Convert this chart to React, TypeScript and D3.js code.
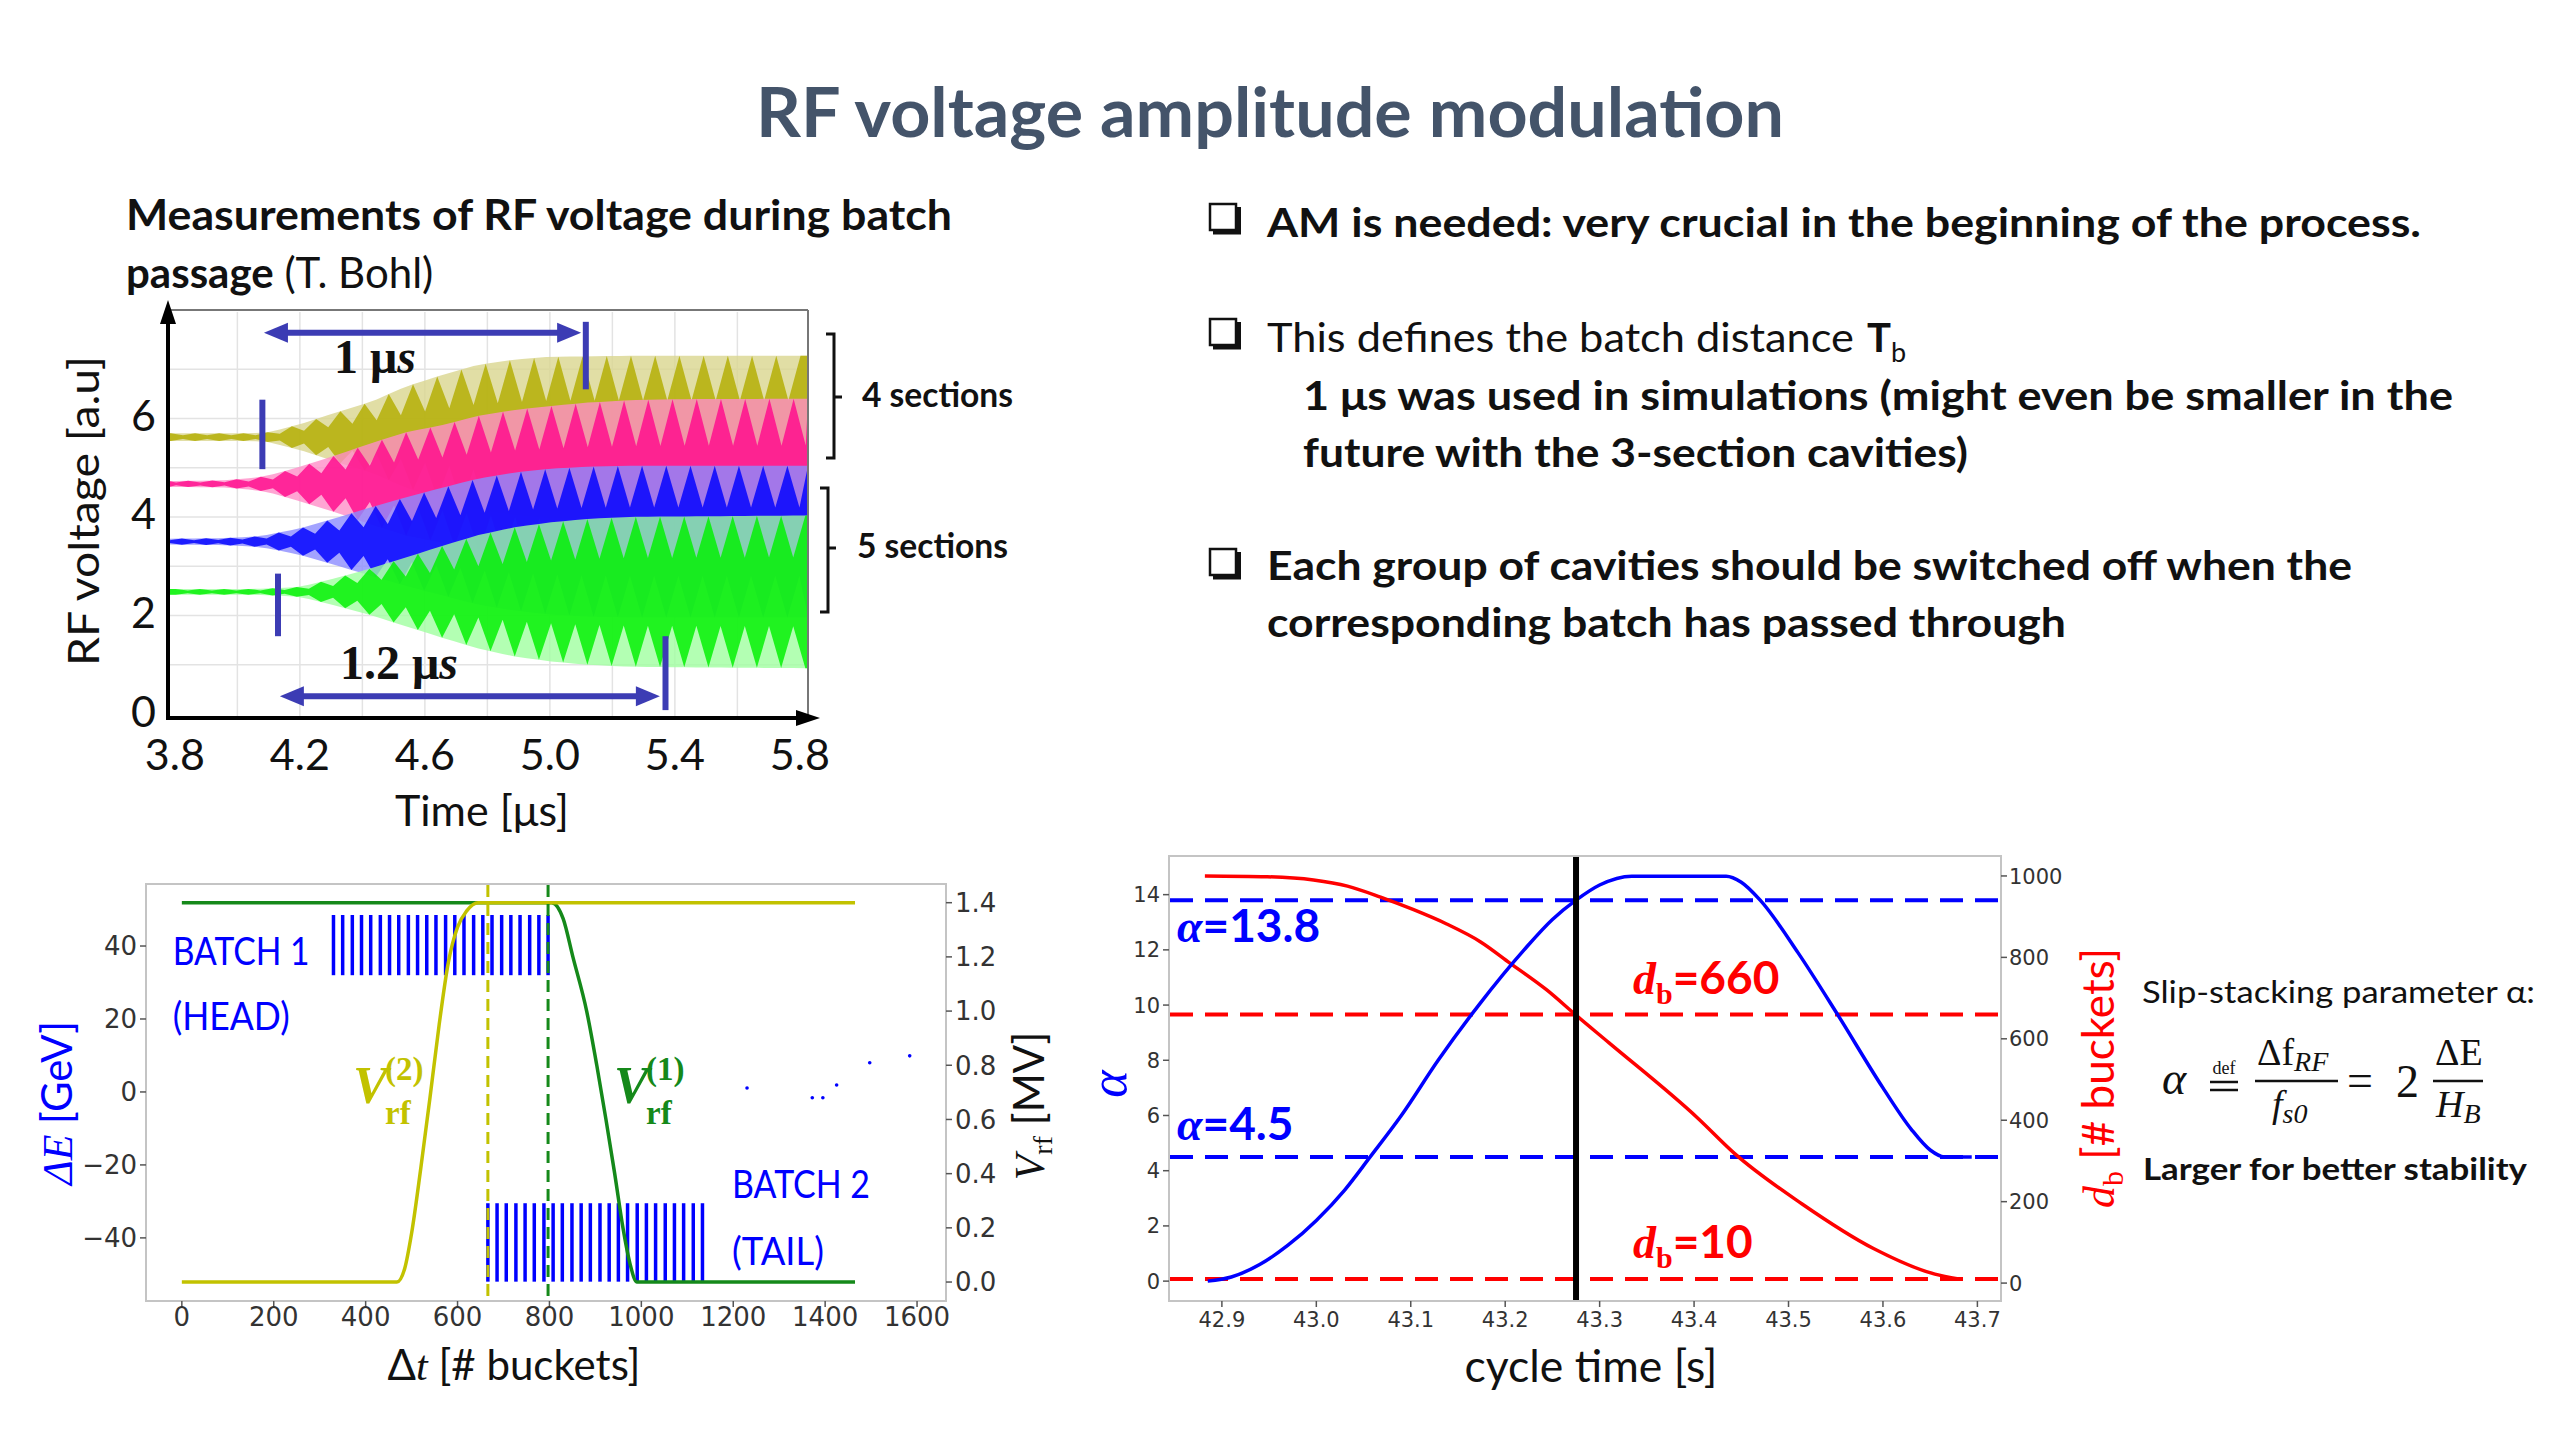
import React from "react";
import * as d3 from "d3";

const SANS = "Lato, 'Open Sans', 'DejaVu Sans', sans-serif";
const SERIF = "'Liberation Serif', 'DejaVu Serif', serif";
const MPL = "'DejaVu Sans', sans-serif";
const ANN = "#3c3cb4";

// ---------- Top-left: measured RF voltage envelopes ----------
const rfTimeTicks = [3.8, 4.2, 4.6, 5.0, 5.4, 5.8];
const rfVoltTicks = [0, 2, 4, 6];
const rfGridTimes = [4.0, 4.2, 4.4, 4.6, 4.8, 5.0, 5.2, 5.4, 5.6];
const rfGridVolts = [1, 2, 3, 4, 5, 6, 7];
const envTimes = [3.78, 3.95, 4.05, 4.1, 4.2, 4.315, 4.43, 4.54, 4.66, 4.77, 4.885, 5.0, 5.12, 5.25, 5.4, 5.826];
const oliveAmp = [0.08, 0.08, 0.08, 0.1, 0.26, 0.5, 0.72, 1.03, 1.27, 1.47, 1.57, 1.63, 1.64, 1.65, 1.65, 1.65];
const pinkAmp = [0.06, 0.07, 0.12, 0.17, 0.35, 0.58, 0.83, 1.05, 1.2, 1.38, 1.5, 1.58, 1.65, 1.7, 1.72, 1.73];
const blueAmp = [0.06, 0.07, 0.1, 0.14, 0.27, 0.48, 0.7, 0.9, 1.1, 1.28, 1.4, 1.48, 1.52, 1.54, 1.54, 1.54];
const greenAmp = [0.06, 0.06, 0.06, 0.07, 0.1, 0.28, 0.48, 0.7, 0.94, 1.15, 1.31, 1.41, 1.48, 1.52, 1.53, 1.55];
const channelCenters = [5.62, 4.67, 3.5, 2.48];
const channelBeatRef = [5.182, 5.16, 5.14, 5.12];
const channelDark = ["#b2ad00", "#ff0a8c", "#0000ff", "#00f000"];
const channelPale = ["#dad68e", "#ff8fc8", "#8c8cff", "#a0ffa0"];
const BEAT_PERIOD = 0.0775;
const NOTCH_DEPTH = 0.55;

// ---------- Bottom-left: simulation, two batches ----------
const dtTicks = [0, 200, 400, 600, 800, 1000, 1200, 1400, 1600];
const dETicks = [-40, -20, 0, 20, 40];
const vrfTicks = [0, 0.2, 0.4, 0.6, 0.8, 1.0, 1.2, 1.4];
const vrf2Dt = [0, 468, 485, 500, 520, 540, 560, 580, 600, 620, 645, 1465];
const vrf2Val = [0, 0, 0.05, 0.18, 0.42, 0.68, 0.95, 1.18, 1.31, 1.37, 1.4, 1.4];
const vrf1Dt = [0, 805, 830, 851, 881, 903, 923, 942, 960, 975, 990, 1465];
const vrf1Val = [1.4, 1.4, 1.34, 1.2, 1.0, 0.8, 0.6, 0.4, 0.2, 0.07, 0, 0];
const batch1Pos = [330, 350, 371, 391, 411, 432, 452, 472, 493, 513, 533, 553, 574, 594, 614, 635, 655, 675, 696, 716, 736, 757, 777, 797];
const batch1Lo = 32;
const batch1Hi = 48.5;
const batch2Pos = [666, 686, 706, 727, 747, 767, 788, 808, 828, 849, 869, 889, 910, 930, 950, 970, 991, 1011, 1031, 1052, 1072, 1092, 1113, 1133];
const batch2Lo = -52;
const batch2Hi = -30.5;
const strayDt = [1230, 1372, 1395, 1425, 1497, 1584];
const strayDE = [1.1, -1.6, -1.6, 1.9, 8, 9.9];
const vrf2Switch = 666;
const vrf1Switch = 797;

// ---------- Bottom-right: alpha and batch distance vs cycle time ----------
const cycleTicks = [42.9, 43.0, 43.1, 43.2, 43.3, 43.4, 43.5, 43.6, 43.7];
const alphaTicks = [0, 2, 4, 6, 8, 10, 12, 14];
const dbTicks = [0, 200, 400, 600, 800, 1000];
const alphaT = [42.885, 42.91, 42.94, 42.97, 43.0, 43.03, 43.057, 43.09, 43.129, 43.172, 43.22, 43.25, 43.275, 43.3, 43.334, 43.434, 43.45, 43.47, 43.51, 43.553, 43.6, 43.63, 43.65, 43.665, 43.694];
const alphaV = [0, 0.15, 0.6, 1.3, 2.2, 3.3, 4.5, 6.0, 8, 10, 12, 13.1, 13.8, 14.35, 14.67, 14.67, 14.45, 13.8, 11.9, 9.6, 7.0, 5.5, 4.75, 4.5, 4.5];
const dbT = [42.882, 42.948, 42.997, 43.033, 43.068, 43.103, 43.138, 43.174, 43.205, 43.244, 43.275, 43.31, 43.404, 43.443, 43.514, 43.59, 43.655, 43.68];
const dbV = [1000, 998, 990, 975, 948, 917, 882, 838, 786, 720, 658, 590, 405, 318, 195, 85, 22, 10];
const alphaRefs = [13.8, 4.5];
const dbRefs = [660, 10];
const switchTime = 43.275;

function DoubleArrow({ x1, x2, y }: { x1: number; x2: number; y: number }) {
  const hl = 24, hw = 10;
  return (
    <g fill={ANN}>
      <line x1={x1 + hl - 2} x2={x2 - hl + 2} y1={y} y2={y} stroke={ANN} strokeWidth={6} />
      <polygon points={`${x1},${y} ${x1 + hl},${y - hw} ${x1 + hl},${y + hw}`} />
      <polygon points={`${x2},${y} ${x2 - hl},${y - hw} ${x2 - hl},${y + hw}`} />
    </g>
  );
}

function CheckBox({ x, y }: { x: number; y: number }) {
  return (
    <g>
      <rect x={x} y={y} width={26} height={26} fill="none" stroke="#111" strokeWidth={2.5} />
      <path d={`M${x + 3},${y + 28.5} H${x + 29} V${y + 3}`} fill="none" stroke="#111" strokeWidth={4} />
    </g>
  );
}

export default function App() {
  // ===== top-left scales =====
  const xT = d3.scaleLinear().domain([3.778, 5.826]).range([168, 808]);
  const yT = d3.scaleLinear().domain([-0.08, 8.2]).range([718, 310]);
  const ampArrays = [oliveAmp, pinkAmp, blueAmp, greenAmp];

  const channelPaths = ampArrays.map((amp, ci) => {
    const c = channelCenters[ci];
    const a = d3.scaleLinear().domain(envTimes).range(amp).clamp(true);
    const t0 = envTimes[0];
    const t1 = envTimes[envTimes.length - 1];
    const half = BEAT_PERIOD / 2;
    const ref = channelBeatRef[ci];
    const ts: number[] = [t0];
    const fs: number[] = [1];
    for (let k = Math.ceil((t0 - ref) / half); ref + k * half < t1; k++) {
      const t = ref + k * half;
      if (t <= t0) continue;
      ts.push(t);
      fs.push(Math.abs(k) % 2 === 0 ? 1 : 1 - NOTCH_DEPTH);
    }
    ts.push(t1);
    fs.push(1);
    const pale = d3
      .area<number>()
      .x((t) => xT(t))
      .y0((t) => yT(c - a(t)))
      .y1((t) => yT(c + a(t)))(ts) as string;
    const top: [number, number][] = ts.map((t, i) => [xT(t), yT(c + a(t) * fs[i])]);
    const bot: [number, number][] = ts.map((t, i) => [xT(t), yT(c - a(t) * fs[i])] as [number, number]).reverse();
    const dark = (d3.line()([...top, ...bot]) as string) + "Z";
    return { pale, dark };
  });

  // ===== bottom-left scales =====
  const xB = d3.scaleLinear().domain([-78, 1663]).range([146, 946]);
  const yE = d3.scaleLinear().domain([-57.3, 57]).range([1301, 884]);
  const yVr = d3.scaleLinear().domain([-0.07, 1.469]).range([1301, 884]);
  const vLine = d3.line<[number, number]>().x((d) => xB(d[0])).y((d) => yVr(d[1])).curve(d3.curveMonotoneX);
  const vrf1Path = vLine(vrf1Dt.map((t, i) => [t, vrf1Val[i]]));
  const vrf2Path = vLine(vrf2Dt.map((t, i) => [t, vrf2Val[i]]));

  // ===== bottom-right scales =====
  const xC = d3.scaleLinear().domain([42.844, 43.725]).range([1169, 2001]);
  const yA = d3.scaleLinear().domain([-0.72, 15.4]).range([1301, 856]);
  const yD = d3.scaleLinear().domain([-44, 1049]).range([1301, 856]);
  const alphaPath = d3
    .line<number>()
    .x((_, i) => xC(alphaT[i]))
    .y((v) => yA(v))
    .curve(d3.curveMonotoneX)(alphaV);
  const dbPath = d3
    .line<number>()
    .x((_, i) => xC(dbT[i]))
    .y((v) => yD(v))
    .curve(d3.curveMonotoneX)(dbV);

  const tickCol = "#555";
  const labCol = "#333";

  return (
    <svg width={2560} height={1440} style={{ position: "absolute", left: 0, top: 0, background: "#fff" }}>
      <rect x={0} y={0} width={2560} height={1440} fill="#fff" />
      {/* Title */}
      <text x={1270} y={137} textAnchor="middle" fontFamily={SANS} fontWeight={700} fontSize={68} fill="#44546a" textLength={1028} lengthAdjust="spacingAndGlyphs">
        RF voltage amplitude modulation
      </text>

      {/* ================= Top-left heading ================= */}
      <text x={126} y={230} fontFamily={SANS} fontWeight={700} fontSize={42} fill="#111" textLength={826} lengthAdjust="spacingAndGlyphs">
        Measurements of RF voltage during batch
      </text>
      <text x={126} y={288} fontFamily={SANS} fontSize={42} fill="#111">
        <tspan fontWeight={700}>passage</tspan>
        <tspan> (T. Bohl)</tspan>
      </text>

      {/* ================= Top-left chart ================= */}
      <g>
        {rfGridTimes.map((t) => (
          <line key={"gt" + t} x1={xT(t)} x2={xT(t)} y1={312} y2={716} stroke="#e3e3e3" strokeWidth={1.5} />
        ))}
        {rfGridVolts.map((v) => (
          <line key={"gv" + v} x1={170} x2={806} y1={yT(v)} y2={yT(v)} stroke="#e3e3e3" strokeWidth={1.5} />
        ))}
        {channelPaths.map((p, i) => (
          <g key={"ch" + i}>
            <path d={p.pale} fill={channelPale[i]} fillOpacity={0.8} />
            <path d={p.dark} fill={channelDark[i]} fillOpacity={0.82} />
          </g>
        ))}
        {/* frame */}
        <line x1={168} x2={808} y1={310} y2={310} stroke="#777" strokeWidth={2} />
        <line x1={808} x2={808} y1={310} y2={718} stroke="#777" strokeWidth={2} />
        {/* axes with arrows */}
        <line x1={168} x2={168} y1={320} y2={720} stroke="#000" strokeWidth={4} />
        <polygon points="168,300 160,324 176,324" fill="#000" />
        <line x1={166} x2={800} y1={718} y2={718} stroke="#000" strokeWidth={4} />
        <polygon points="820,718 796,710 796,726" fill="#000" />
        {rfVoltTicks.map((v) => (
          <text key={"yl" + v} x={156} y={yT(v) - 3} dy="0.36em" textAnchor="end" fontFamily={SANS} fontSize={43} fill="#111">
            {v}
          </text>
        ))}
        {rfTimeTicks.map((t) => (
          <text key={"xl" + t} x={xT(t)} y={770} textAnchor="middle" fontFamily={SANS} fontSize={43} fill="#111">
            {t.toFixed(1)}
          </text>
        ))}
        <text x={482} y={826} textAnchor="middle" fontFamily={SANS} fontSize={43} fill="#111">
          Time [μs]
        </text>
        <text transform="translate(84,511) rotate(-90)" dy="0.36em" textAnchor="middle" fontFamily={SANS} fontSize={43} fill="#111" textLength={310} lengthAdjust="spacingAndGlyphs">
          RF voltage [a.u]
        </text>

        {/* annotations: 1 us */}
        <DoubleArrow x1={xT(4.085)} x2={xT(5.1)} y={yT(7.74)} />
        <line x1={xT(5.115)} x2={xT(5.115)} y1={yT(7.96)} y2={yT(6.59)} stroke={ANN} strokeWidth={6} />
        <line x1={xT(4.08)} x2={xT(4.08)} y1={yT(6.38)} y2={yT(4.97)} stroke={ANN} strokeWidth={6} />
        <text x={334} y={373} fontFamily={SERIF} fontWeight={700} fontSize={48} fill="#111">
          1 μ<tspan fontStyle="italic">s</tspan>
        </text>
        {/* annotations: 1.2 us */}
        <DoubleArrow x1={xT(4.136)} x2={xT(5.352)} y={yT(0.36)} />
        <line x1={xT(5.37)} x2={xT(5.37)} y1={yT(1.58)} y2={yT(0.08)} stroke={ANN} strokeWidth={6} />
        <line x1={xT(4.13)} x2={xT(4.13)} y1={yT(2.85)} y2={yT(1.58)} stroke={ANN} strokeWidth={6} />
        <text x={340} y={679} fontFamily={SERIF} fontWeight={700} fontSize={48} fill="#111">
          1.2 μ<tspan fontStyle="italic">s</tspan>
        </text>

        {/* brackets */}
        <path d="M826,334 H834 V458 H826 M834,397 H842" fill="none" stroke="#111" strokeWidth={3} />
        <text x={862} y={407} fontFamily={SANS} fontWeight={700} fontSize={34} fill="#111" textLength={151} lengthAdjust="spacingAndGlyphs">
          4 sections
        </text>
        <path d="M820,488 H828 V612 H820 M828,548 H836" fill="none" stroke="#111" strokeWidth={3} />
        <text x={857} y={558} fontFamily={SANS} fontWeight={700} fontSize={34} fill="#111" textLength={151} lengthAdjust="spacingAndGlyphs">
          5 sections
        </text>
      </g>

      {/* ================= Right text ================= */}
      <g fontFamily={SANS} fill="#111">
        <CheckBox x={1210} y={204} />
        <text x={1267} y={237} fontWeight={700} fontSize={40} textLength={1154} lengthAdjust="spacingAndGlyphs">
          AM is needed: very crucial in the beginning of the process.
        </text>
        <CheckBox x={1210} y={319} />
        <text x={1267} y={352} fontSize={40}>
          <tspan textLength={587} lengthAdjust="spacingAndGlyphs">This defines the batch distance</tspan>
        </text>
        <text x={1867} y={352} fontSize={40} fontWeight={700}>T</text>
        <text x={1891} y={362} fontSize={27}>b</text>
        <text x={1303} y={410} fontWeight={700} fontSize={40} textLength={1150} lengthAdjust="spacingAndGlyphs">
          1 μs was used in simulations (might even be smaller in the
        </text>
        <text x={1303} y={467} fontWeight={700} fontSize={40} textLength={665} lengthAdjust="spacingAndGlyphs">
          future with the 3-section cavities)
        </text>
        <CheckBox x={1210} y={549} />
        <text x={1267} y={580} fontWeight={700} fontSize={40} textLength={1085} lengthAdjust="spacingAndGlyphs">
          Each group of cavities should be switched off when the
        </text>
        <text x={1267} y={637} fontWeight={700} fontSize={40} textLength={799} lengthAdjust="spacingAndGlyphs">
          corresponding batch has passed through
        </text>
      </g>

      {/* ================= Bottom-left chart ================= */}
      <g>
        <rect x={146} y={884} width={800} height={417} fill="none" stroke="#c4c4c4" strokeWidth={2} />
        {batch1Pos.map((t, i) => (
          <line key={"b1" + i} x1={xB(t)} x2={xB(t)} y1={yE(batch1Lo)} y2={yE(batch1Hi)} stroke="#0000ff" strokeWidth={3.5} />
        ))}
        {batch2Pos.map((t, i) => (
          <line key={"b2" + i} x1={xB(t)} x2={xB(t)} y1={yE(batch2Lo)} y2={yE(batch2Hi)} stroke="#0000ff" strokeWidth={3.5} />
        ))}
        {strayDt.map((t, i) => (
          <circle key={"sd" + i} cx={xB(t)} cy={yE(strayDE[i])} r={1.8} fill="#0000ff" />
        ))}
        <path d={vrf1Path as string} fill="none" stroke="#15891a" strokeWidth={3.5} />
        <path d={vrf2Path as string} fill="none" stroke="#c2c200" strokeWidth={3.5} />
        <line x1={xB(vrf2Switch)} x2={xB(vrf2Switch)} y1={885} y2={1300} stroke="#c2c200" strokeWidth={3} strokeDasharray="12 7" />
        <line x1={xB(vrf1Switch)} x2={xB(vrf1Switch)} y1={885} y2={1300} stroke="#15891a" strokeWidth={3} strokeDasharray="12 7" />
        {dtTicks.map((t) => (
          <g key={"bx" + t}>
            <line x1={xB(t)} x2={xB(t)} y1={1301} y2={1307} stroke={tickCol} strokeWidth={1.5} />
            <text x={xB(t)} y={1326} textAnchor="middle" fontFamily={MPL} fontSize={26} fill={labCol}>
              {t}
            </text>
          </g>
        ))}
        {dETicks.map((v) => (
          <g key={"be" + v}>
            <line x1={140} x2={146} y1={yE(v)} y2={yE(v)} stroke={tickCol} strokeWidth={1.5} />
            <text x={137} y={yE(v)} dy="0.36em" textAnchor="end" fontFamily={MPL} fontSize={26} fill={labCol}>
              {v < 0 ? "\u2212" + Math.abs(v) : v}
            </text>
          </g>
        ))}
        {vrfTicks.map((v) => (
          <g key={"bv" + v}>
            <line x1={946} x2={952} y1={yVr(v)} y2={yVr(v)} stroke={tickCol} strokeWidth={1.5} />
            <text x={955} y={yVr(v)} dy="0.36em" textAnchor="start" fontFamily={MPL} fontSize={26} fill={labCol}>
              {v.toFixed(1)}
            </text>
          </g>
        ))}
        <text x={xB(-20)} y={965} fontFamily={SANS} fontSize={38} fill="#0000ff" textLength={137} lengthAdjust="spacingAndGlyphs">BATCH 1</text>
        <text x={xB(-20)} y={1030} fontFamily={SANS} fontSize={38} fill="#0000ff" textLength={117} lengthAdjust="spacingAndGlyphs">(HEAD)</text>
        <text x={732} y={1198} fontFamily={SANS} fontSize={38} fill="#0000ff" textLength={138} lengthAdjust="spacingAndGlyphs">BATCH 2</text>
        <text x={732} y={1265} fontFamily={SANS} fontSize={38} fill="#0000ff" textLength={92} lengthAdjust="spacingAndGlyphs">(TAIL)</text>
        {/* V_rf labels */}
        <g fontFamily={SERIF} fontWeight={700} fill="#c2c200">
          <text x={353} y={1103} fontSize={52} fontStyle="italic">V</text>
          <text x={385} y={1080} fontSize={33}>(2)</text>
          <text x={385} y={1124} fontSize={33}>rf</text>
        </g>
        <g fontFamily={SERIF} fontWeight={700} fill="#15891a">
          <text x={614} y={1103} fontSize={52} fontStyle="italic">V</text>
          <text x={646} y={1080} fontSize={33}>(1)</text>
          <text x={646} y={1124} fontSize={33}>rf</text>
        </g>
        {/* axis labels */}
        <text transform="translate(57,1103) rotate(-90)" dy="0.36em" textAnchor="middle" fill="#0000ff" fontSize={42}>
          <tspan fontFamily={SERIF} fontStyle="italic">ΔE</tspan>
          <tspan fontFamily={SANS}> [GeV]</tspan>
        </text>
        <text transform="translate(1029,1106) rotate(-90)" dy="0.36em" textAnchor="middle" fill="#111" fontSize={42}>
          <tspan fontFamily={SERIF} fontStyle="italic">V</tspan>
          <tspan fontFamily={SERIF} fontSize={28} dy="8">rf</tspan>
          <tspan fontFamily={SANS} dy="-8"> [MV]</tspan>
        </text>
        <text x={514} y={1380} textAnchor="middle" fill="#111" fontSize={42}>
          <tspan fontFamily={SANS}>Δ</tspan>
          <tspan fontFamily={SERIF} fontStyle="italic">t</tspan>
          <tspan fontFamily={SANS}> [# buckets]</tspan>
        </text>
      </g>

      {/* ================= Bottom-right chart ================= */}
      <g>
        <rect x={1169} y={856} width={832} height={445} fill="none" stroke="#c4c4c4" strokeWidth={2} />
        {alphaRefs.map((v) => (
          <line key={"ar" + v} x1={1170} x2={2000} y1={yA(v)} y2={yA(v)} stroke="#0000ff" strokeWidth={4} strokeDasharray="23 12" />
        ))}
        {dbRefs.map((v) => (
          <line key={"dr" + v} x1={1170} x2={2000} y1={yD(v)} y2={yD(v)} stroke="#ff0000" strokeWidth={4} strokeDasharray="23 12" />
        ))}
        <path d={dbPath as string} fill="none" stroke="#ff0000" strokeWidth={3.5} />
        <path d={alphaPath as string} fill="none" stroke="#0000ff" strokeWidth={3.5} />
        <line x1={xC(switchTime)} x2={xC(switchTime)} y1={857} y2={1300} stroke="#000" strokeWidth={6} />
        {cycleTicks.map((t) => (
          <g key={"cx" + t}>
            <line x1={xC(t)} x2={xC(t)} y1={1301} y2={1307} stroke={tickCol} strokeWidth={1.5} />
            <text x={xC(t)} y={1327} textAnchor="middle" fontFamily={MPL} fontSize={21} fill={labCol}>
              {t.toFixed(1)}
            </text>
          </g>
        ))}
        {alphaTicks.map((v) => (
          <g key={"ay" + v}>
            <line x1={1163} x2={1169} y1={yA(v)} y2={yA(v)} stroke={tickCol} strokeWidth={1.5} />
            <text x={1160} y={yA(v)} dy="0.36em" textAnchor="end" fontFamily={MPL} fontSize={21} fill={labCol}>
              {v}
            </text>
          </g>
        ))}
        {dbTicks.map((v) => (
          <g key={"dy" + v}>
            <line x1={2001} x2={2007} y1={yD(v)} y2={yD(v)} stroke={tickCol} strokeWidth={1.5} />
            <text x={2009} y={yD(v)} dy="0.36em" textAnchor="start" fontFamily={MPL} fontSize={21} fill={labCol}>
              {v}
            </text>
          </g>
        ))}
        {/* in-plot labels */}
        <text x={1177} y={942} fill="#0000ff" fontSize={46} fontWeight={700}>
          <tspan fontFamily={SERIF} fontStyle="italic">α</tspan>
          <tspan fontFamily={SANS}>=13.8</tspan>
        </text>
        <text x={1177} y={1140} fill="#0000ff" fontSize={46} fontWeight={700}>
          <tspan fontFamily={SERIF} fontStyle="italic">α</tspan>
          <tspan fontFamily={SANS}>=4.5</tspan>
        </text>
        <text x={1633} y={994} fill="#ff0000" fontSize={46} fontWeight={700}>
          <tspan fontFamily={SERIF} fontStyle="italic">d</tspan>
          <tspan fontFamily={SERIF} fontSize={30} dy="10">b</tspan>
          <tspan fontFamily={SANS} dy="-10">=660</tspan>
        </text>
        <text x={1633} y={1258} fill="#ff0000" fontSize={46} fontWeight={700}>
          <tspan fontFamily={SERIF} fontStyle="italic">d</tspan>
          <tspan fontFamily={SERIF} fontSize={30} dy="10">b</tspan>
          <tspan fontFamily={SANS} dy="-10">=10</tspan>
        </text>
        {/* axis labels */}
        <text transform="translate(1110,1084) rotate(-90)" dy="0.3em" textAnchor="middle" fill="#0000ff" fontSize={52} fontFamily={SERIF} fontStyle="italic">
          α
        </text>
        <text transform="translate(2098,1078) rotate(-90)" dy="0.36em" textAnchor="middle" fill="#ff0000" fontSize={44}>
          <tspan fontFamily={SERIF} fontStyle="italic">d</tspan>
          <tspan fontFamily={SERIF} fontSize={30} dy="9">b</tspan>
          <tspan fontFamily={SANS} dy="-9"> [# buckets]</tspan>
        </text>
        <text x={1591} y={1382} textAnchor="middle" fill="#111" fontSize={44} fontFamily={SANS} textLength={253} lengthAdjust="spacingAndGlyphs">
          cycle time [s]
        </text>
      </g>

      {/* ================= Formula ================= */}
      <g fill="#111">
        <text x={2142} y={1003} fontFamily={SANS} fontSize={31} textLength={393} lengthAdjust="spacingAndGlyphs">
          Slip-stacking parameter α:
        </text>
        <text x={2162} y={1094} fontFamily={SERIF} fontStyle="italic" fontSize={46}>α</text>
        <text x={2224} y={1074} textAnchor="middle" fontFamily={SERIF} fontSize={18}>def</text>
        <line x1={2210} x2={2238} y1={1082} y2={1082} stroke="#111" strokeWidth={2.5} />
        <line x1={2210} x2={2238} y1={1090} y2={1090} stroke="#111" strokeWidth={2.5} />
        <text x={2257} y={1065} fontFamily={SERIF} fontSize={38}>
          Δf<tspan fontStyle="italic" fontSize={28} dy="6">RF</tspan>
        </text>
        <line x1={2255} x2={2338} y1={1081} y2={1081} stroke="#111" strokeWidth={2.5} />
        <text x={2272} y={1117} fontFamily={SERIF} fontSize={38} fontStyle="italic">
          f<tspan fontSize={28} dy="6">s0</tspan>
        </text>
        <text x={2347} y={1096} fontFamily={SERIF} fontSize={46}>=</text>
        <text x={2396} y={1097} fontFamily={SERIF} fontSize={46}>2</text>
        <text x={2435} y={1065} fontFamily={SERIF} fontSize={38}>ΔE</text>
        <line x1={2433} x2={2483} y1={1081} y2={1081} stroke="#111" strokeWidth={2.5} />
        <text x={2436} y={1117} fontFamily={SERIF} fontSize={38} fontStyle="italic">
          H<tspan fontSize={28} dy="6">B</tspan>
        </text>
        <text x={2143} y={1180} fontFamily={SANS} fontWeight={700} fontSize={31} textLength={384} lengthAdjust="spacingAndGlyphs">
          Larger for better stability
        </text>
      </g>
    </svg>
  );
}
